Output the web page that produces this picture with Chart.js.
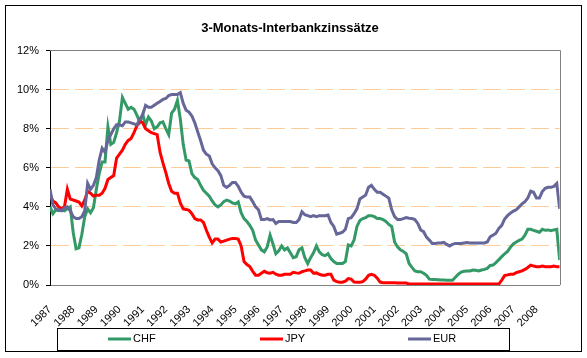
<!DOCTYPE html>
<html>
<head>
<meta charset="utf-8">
<script src="https://cdn.jsdelivr.net/npm/chart.js@4/dist/chart.umd.min.js"></script>
<style>
  html, body { margin: 0; padding: 0; background: #fff; }
  #wrap { width: 587px; height: 358px; position: relative; }
</style>
</head>
<body>
<div id="wrap"><canvas id="zinsChart"></canvas></div>
<script>
// Achsenbeschriftung: ein Label pro Jahr
const jahre = [1987, 1988, 1989, 1990, 1991, 1992, 1993, 1994, 1995, 1996, 1997,
  1998, 1999, 2000, 2001, 2002, 2003, 2004, 2005, 2006, 2007, 2008];

// Zeitpunkte der Werte: 8 pro Jahr (alle 1,5 Monate), Jan 1987 bis Ende 2008
const schritteProJahr = 8;
const zeit = [];
for (let k = 0; k <= jahre.length * schritteProJahr; k++) {
  zeit.push(jahre[0] + k / schritteProJahr);
}

// Werte in % (eine Zeile pro Jahr)
const chf = [
  4.0, 3.65, 3.85, 3.8, 3.85, 3.8, 3.9, 4.0,
  2.7, 1.85, 1.9, 2.6, 3.5, 3.9, 3.7, 3.95,
  4.9, 5.7, 6.3, 6.3, 8.1, 7.2, 7.3, 7.8,
  8.4, 9.6, 9.3, 9.0, 9.1, 9.0, 8.7, 8.35,
  8.75, 8.2, 8.6, 8.4, 8.0, 8.1, 8.3, 8.35,
  8.0, 7.7, 8.8, 9.0, 9.45, 8.5, 7.2, 6.4,
  6.35, 5.7, 5.5, 5.4, 5.1, 4.85, 4.7, 4.55,
  4.3, 4.1, 4.0, 4.1, 4.27, 4.35, 4.3, 4.2,
  4.15, 4.25, 3.7, 3.4, 3.25, 3.05, 2.8, 2.3,
  2.05, 1.8, 1.7, 1.95, 2.55, 2.1, 1.6, 1.75,
  2.0, 1.8, 1.9, 1.65, 1.4, 1.45, 1.8, 1.9,
  1.4, 1.1, 1.4, 1.65, 2.0, 1.7, 1.55, 1.5,
  1.6, 1.35, 1.2, 1.1, 1.1, 1.1, 1.2, 2.05,
  2.0, 2.3, 3.0, 3.3, 3.4, 3.45, 3.55, 3.55,
  3.5, 3.4, 3.4, 3.35, 3.25, 3.1, 3.0, 2.2,
  1.95, 1.8, 1.72, 1.6, 1.1, 0.9, 0.72, 0.68,
  0.68, 0.6, 0.5, 0.3, 0.28, 0.28, 0.27, 0.26,
  0.25, 0.24, 0.24, 0.24, 0.4, 0.55, 0.66, 0.7,
  0.72, 0.72, 0.77, 0.75, 0.72, 0.77, 0.8, 0.85,
  1.0, 1.02, 1.15, 1.3, 1.45, 1.6, 1.72, 1.93,
  2.1, 2.2, 2.28, 2.35, 2.55, 2.85, 2.85, 2.8,
  2.75, 2.7, 2.85, 2.8, 2.82, 2.78, 2.82, 2.85,
  1.28
];

const jpy = [
  4.6, 4.3, 4.2, 4.0, 3.9, 4.0, 4.9, 4.4,
  4.35, 4.3, 4.25, 4.05, 4.35, 4.8, 4.7, 4.55,
  4.6, 4.6, 4.7, 4.95, 5.4, 5.5, 5.6, 6.5,
  6.7, 6.9, 7.2, 7.4, 7.5, 7.8, 8.15, 8.4,
  8.3, 8.0, 7.9, 7.8, 7.75, 7.7, 6.8, 6.25,
  5.75, 5.2, 4.8, 4.7, 4.7, 4.2, 3.9, 3.87,
  3.82, 3.65, 3.4, 3.33, 3.33, 3.2, 2.8, 2.45,
  2.15, 2.35, 2.35, 2.2, 2.25, 2.3, 2.35, 2.38,
  2.38, 2.35, 2.0, 1.2, 1.05, 0.95, 0.7, 0.5,
  0.5, 0.6, 0.7, 0.63, 0.6, 0.65, 0.55, 0.5,
  0.5, 0.55, 0.55, 0.55, 0.65, 0.62, 0.6, 0.68,
  0.72, 0.77, 0.77, 0.6, 0.62, 0.55, 0.5, 0.5,
  0.55, 0.55, 0.25, 0.17, 0.14, 0.14, 0.2, 0.33,
  0.3, 0.15, 0.14, 0.14, 0.17, 0.3, 0.5, 0.55,
  0.5, 0.35, 0.15, 0.12, 0.12, 0.12, 0.12, 0.12,
  0.1, 0.1, 0.1, 0.1, 0.05, 0.05, 0.05, 0.05,
  0.05, 0.05, 0.05, 0.05, 0.05, 0.05, 0.05, 0.05,
  0.05, 0.05, 0.05, 0.05, 0.05, 0.05, 0.05, 0.05,
  0.05, 0.05, 0.05, 0.05, 0.05, 0.05, 0.05, 0.05,
  0.05, 0.05, 0.05, 0.05, 0.25, 0.48, 0.52, 0.55,
  0.55, 0.63, 0.68, 0.72, 0.8, 0.9, 1.02, 0.97,
  0.94, 0.94, 0.97, 0.94, 0.94, 0.94, 0.97, 0.94,
  0.94
];

const eur = [
  4.9, 4.1, 3.9, 3.85, 3.8, 3.95, 4.0, 3.8,
  3.5, 3.4, 3.4, 3.5, 3.8, 5.2, 4.9, 5.1,
  5.5, 6.4, 7.0, 6.8, 7.4, 7.7, 8.0, 8.2,
  8.2, 8.15, 8.35, 8.35, 8.3, 8.25, 8.2, 8.5,
  8.7, 9.2, 9.1, 9.1, 9.2, 9.3, 9.4, 9.5,
  9.55, 9.7, 9.75, 9.75, 9.75, 9.85, 9.3, 8.95,
  8.85, 8.65, 8.3, 7.85, 7.4, 6.9, 6.7, 6.6,
  6.2, 6.0, 5.85, 5.6, 5.1, 5.0, 5.1, 5.25,
  5.25, 5.05, 4.75, 4.55, 4.5, 4.5, 4.27, 4.0,
  3.85, 3.35, 3.35, 3.4, 3.33, 3.35, 3.15, 3.25,
  3.25, 3.25, 3.25, 3.25, 3.2, 3.2, 3.35, 3.75,
  3.6, 3.55, 3.5, 3.55, 3.5, 3.55, 3.55, 3.55,
  3.58, 3.2, 3.0, 2.6, 2.65, 2.7, 2.85, 3.4,
  3.45, 3.65, 3.9, 4.4, 4.5, 4.6, 5.0, 5.1,
  4.9, 4.75, 4.75, 4.65, 4.55, 4.45, 3.85, 3.5,
  3.35, 3.35, 3.4, 3.45, 3.42, 3.4, 3.35, 3.15,
  2.82, 2.73, 2.45, 2.3, 2.13, 2.13, 2.15, 2.15,
  2.18, 2.08, 2.0, 2.08, 2.13, 2.13, 2.13, 2.15,
  2.17, 2.15, 2.15, 2.15, 2.15, 2.15, 2.15, 2.2,
  2.47, 2.55, 2.65, 2.9, 3.05, 3.38, 3.55, 3.68,
  3.78, 3.85, 4.0, 4.15, 4.27, 4.45, 4.8, 4.75,
  4.45, 4.45, 4.78, 4.95, 5.0, 5.0, 5.05, 5.2,
  3.9
];

const waehrungen = ['CHF', 'JPY', 'EUR'];
const farben = ['#339966', '#FF0000', '#666699'];
const reihen = [chf, jpy, eur];

const schrift = 'Arial, "Liberation Sans", sans-serif';

// Punkte {x, y} für die lineare Zeitachse
function punkte(werte) {
  return werte.map((v, i) => ({ x: zeit[i], y: v }));
}

// Rahmen, Plotbereich-Kante und Legende im Excel-Stil
const rahmenPlugin = {
  id: 'rahmen',
  beforeDraw(chart) {
    const c = chart.ctx;
    c.save();
    c.fillStyle = '#fff';
    c.fillRect(0, 0, chart.width, chart.height);
    c.restore();
  },
  afterDraw(chart) {
    const c = chart.ctx;
    const a = chart.chartArea;
    c.save();
    // obere und rechte Kante des Plotbereichs
    c.strokeStyle = '#808080';
    c.lineWidth = 1;
    c.beginPath();
    c.moveTo(Math.round(a.left), Math.floor(a.top) + 0.5);
    c.lineTo(Math.round(a.right) + 0.5, Math.floor(a.top) + 0.5);
    c.lineTo(Math.round(a.right) + 0.5, Math.round(a.bottom));
    c.stroke();

    // äußerer Rahmen
    c.strokeStyle = '#000';
    c.strokeRect(5.5, 5.5, 576, 346);

    // Legende
    c.strokeRect(57.5, 328.5, 452, 22);
    const startX = [108, 260, 408];
    const y = 339;
    c.font = '11px ' + schrift;
    c.textBaseline = 'middle';
    c.textAlign = 'left';
    chart.data.datasets.forEach((ds, i) => {
      c.strokeStyle = ds.borderColor;
      c.lineWidth = 3;
      c.beginPath();
      c.moveTo(startX[i], y);
      c.lineTo(startX[i] + 23, y);
      c.stroke();
      c.fillStyle = '#000';
      c.fillText(ds.label, startX[i] + 25, y);
    });
    c.restore();
  }
};

const ctx = document.getElementById('zinsChart').getContext('2d');

const zinsChart = new Chart(ctx, {
  type: 'line',
  data: {
    datasets: waehrungen.map((name, i) => ({
      label: name,
      data: punkte(reihen[i]),
      borderColor: farben[i],
      backgroundColor: farben[i],
      borderWidth: 3,
      pointRadius: 0,
      tension: 0,
      fill: false,
      order: waehrungen.length - i
    }))
  },
  options: {
    responsive: true,
    maintainAspectRatio: false,
    animation: false,
    layout: {
      padding: { left: 5, right: 12, top: 0, bottom: 0 }
    },
    plugins: {
      legend: { display: false },
      tooltip: { enabled: false },
      title: {
        display: true,
        text: '3-Monats-Interbankzinssätze',
        color: '#000',
        font: { family: schrift, size: 13, weight: 'bold' },
        padding: { top: 21, bottom: 14 }
      }
    },
    scales: {
      x: {
        type: 'linear',
        min: jahre[0],
        max: jahre[jahre.length - 1] + 1,
        grid: { display: false, drawTicks: false },
        border: { display: true, color: '#808080', width: 1 },
        ticks: {
          stepSize: 1,
          autoSkip: false,
          minRotation: 45,
          maxRotation: 45,
          padding: 18,
          color: '#000',
          font: { family: schrift, size: 11 },
          callback: (v) => (jahre.includes(v) ? String(v) : '')
        },
        afterFit: (scale) => { scale.height = 73; }
      },
      y: {
        min: 0,
        max: 12,
        grid: {
          color: (c) => (c.tick && (c.tick.value === 0 || c.tick.value === 12) ? 'rgba(0,0,0,0)' : '#FFCC99'),
          lineWidth: 1,
          drawTicks: true,
          tickLength: 4,
          tickColor: '#000'
        },
        border: { display: true, color: '#000', width: 1, dash: [18, 6] },
        ticks: {
          stepSize: 2,
          padding: 7,
          color: '#000',
          font: { family: schrift, size: 11 },
          callback: (v) => v + '%'
        },
        afterFit: (scale) => { scale.width = 45; }
      }
    }
  },
  plugins: [rahmenPlugin]
});
</script>
</body>
</html>
